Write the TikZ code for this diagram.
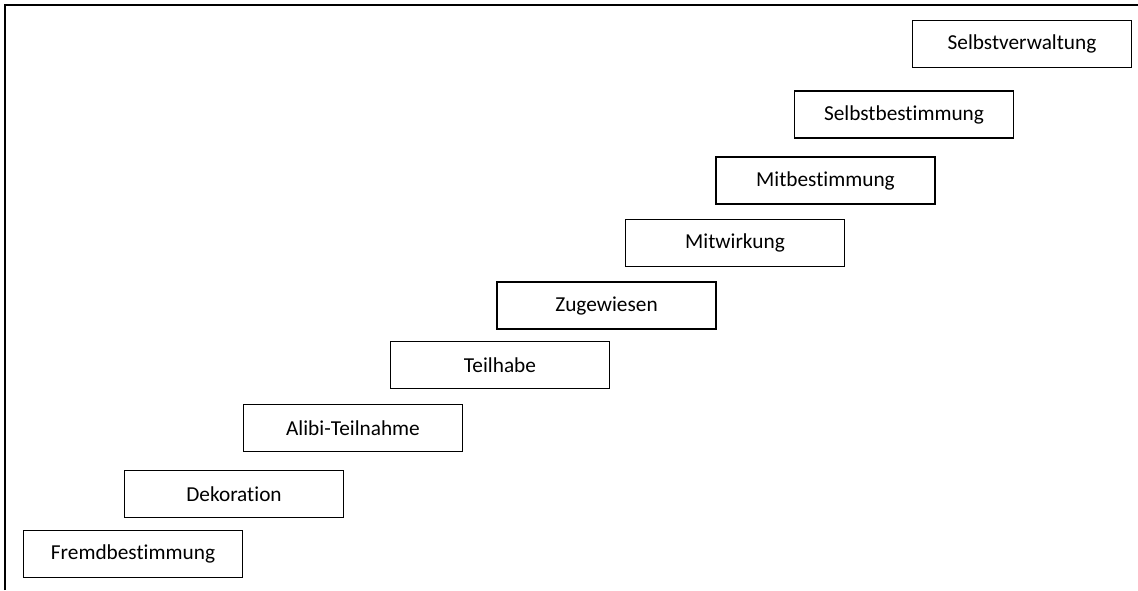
\documentclass[tikz,border=0pt]{standalone}
\usepackage{fontspec}
\setmainfont[RawFeature={-liga}]{Carlito}
\usepackage{tikz}

\tikzset{
  stufe/.style={draw, line width=1.6pt, minimum width=219pt, minimum height=47pt,
    inner sep=0pt, font=\fontsize{21.3}{25}\selectfont}
}

\begin{document}
\begin{tikzpicture}[x=1pt,y=-1pt]
  \useasboundingbox (0,0) rectangle (1138,590);

  % Rahmen (nur links und oben)
  \coordinate (LU) at (5,590);
  \coordinate (LO) at (5,5);
  \coordinate (RO) at (1138,5);
  \draw[line width=1.6pt] (LU) -- (LO) -- (RO);

  % Stufen der Treppe
  \node[stufe] (fremd)   at (133,554)   {Fremdbestimmung};
  \node[stufe] (deko)    at (234,494)   {Dekoration};
  \node[stufe] (alibi)   at (353,428)   {Alibi-Teilnahme};
  \node[stufe] (teil)    at (500,365)   {Teilhabe};
  \node[stufe] (zuge)    at (606.5,305.5) {Zugewiesen};
  \node[stufe] (mitw)    at (735,243)   {Mitwirkung};
  \node[stufe] (mitb)    at (825.5,180.5) {Mitbestimmung};
  \node[stufe] (selbstb) at (904,114.5) {Selbstbestimmung};
  \node[stufe] (selbstv) at (1022,44)   {Selbstverwaltung};
\end{tikzpicture}
\end{document}
